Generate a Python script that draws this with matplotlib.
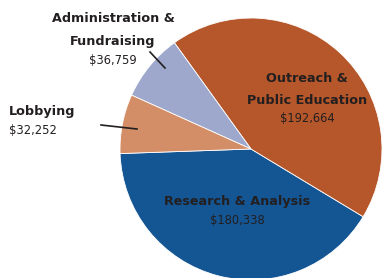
import matplotlib
matplotlib.use("Agg")
import matplotlib.pyplot as plt

categories = ["Research & Analysis", "Outreach & Public Education",
              "Administration & Fundraising", "Lobbying"]
values = [180338, 192664, 36759, 32252]
value_labels = ["$180,338", "$192,664", "$36,759", "$32,252"]
colors = ["#145593", "#B5572A", "#9DA8CC", "#D38E67"]

W, H = 384, 278
fig = plt.figure(figsize=(W / 100, H / 100), dpi=100)
ax = fig.add_axes([0, 0, 1, 1])

ax.pie(values, colors=colors, startangle=182, counterclock=True,
       center=(251, H - 149), radius=131,
       wedgeprops=dict(edgecolor="white", linewidth=0.6))
ax.set_xlim(0, W)
ax.set_ylim(0, H)
ax.set_aspect("auto")
ax.axis("off")

fam = ["DejaVu Sans"]
tc = "#231F20"
bold = dict(family=fam, fontweight="bold", fontsize=9.2,
            color=tc, ha="center", va="center")
reg = dict(family=fam, fontsize=8.3, color=tc, ha="center", va="center")

def Y(y):
    return H - y

# Administration & Fundraising
ax.text(113, Y(19), "Administration &", **bold)
ax.text(113, Y(41), "Fundraising", **bold)
ax.text(113, Y(60), value_labels[2], **reg)
ax.plot([150, 165], [Y(52), Y(68)], color="#231F20", lw=1.2)

# Lobbying
ax.text(9, Y(112), "Lobbying", **{**bold, "ha": "left"})
ax.text(9, Y(131), value_labels[3], **{**reg, "ha": "left"})
ax.plot([101, 137], [Y(125), Y(129)], color="#231F20", lw=1.2)

# Outreach & Public Education
ax.text(307, Y(78), "Outreach &", **bold)
ax.text(307, Y(100), "Public Education", **bold)
ax.text(307, Y(118), value_labels[1], **reg)

# Research & Analysis
ax.text(237, Y(202), "Research & Analysis", **bold)
ax.text(237, Y(221), value_labels[0], **reg)

fig.savefig("out.png", dpi=100)
